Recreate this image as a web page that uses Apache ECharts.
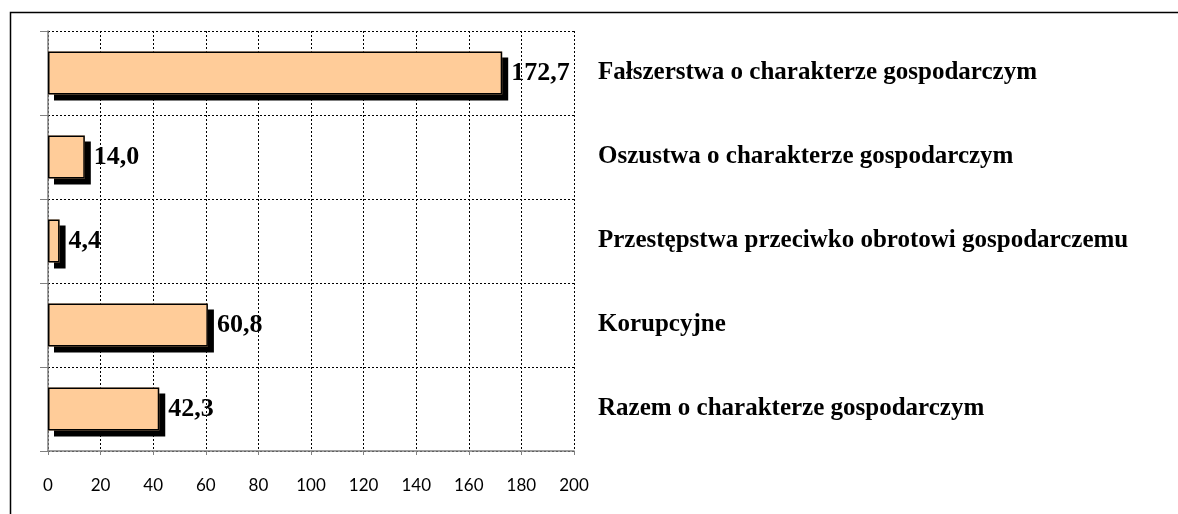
<!DOCTYPE html>
<html>
<head>
<meta charset="utf-8">
<script src="https://cdn.jsdelivr.net/npm/echarts@6/dist/echarts.min.js"></script>
<style>
html, body { margin: 0; padding: 0; background: #fff; }
#chart { width: 1178px; height: 514px; }
</style>
</head>
<body>
<div id="chart"></div>
<script>
// dane z wykresu
var categories = [
    'Fałszerstwa o charakterze gospodarczym',
    'Oszustwa o charakterze gospodarczym',
    'Przestępstwa przeciwko obrotowi gospodarczemu',
    'Korupcyjne',
    'Razem o charakterze gospodarczym'
];
var values = [172.7, 14.0, 4.4, 60.8, 42.3];
var xTicks = [0, 200, 20]; // min, max, interval

var myChart = echarts.init(document.getElementById('chart'));

var option = {
    backgroundColor: '#fff',
    animation: false,
    graphic: [{
        type: 'rect',
        shape: { x: 10.5, y: 12.5, width: 1200, height: 540 },
        style: { fill: 'none', stroke: '#000', lineWidth: 1.5 },
        silent: true
    }],
    grid: {
        left: 48,
        right: 604,
        top: 31,
        bottom: 63
    },
    xAxis: {
        type: 'value',
        min: xTicks[0],
        max: xTicks[1],
        interval: xTicks[2],
        axisLine: { show: true, lineStyle: { color: '#808080', width: 1.5 } },
        axisTick: { show: true, length: 4, lineStyle: { color: '#808080' } },
        axisLabel: {
            margin: 26,
            color: '#000',
            fontFamily: 'Lato',
            fontSize: 17
        },
        splitLine: { show: true, lineStyle: { color: '#000', type: [2, 2], width: 1 } }
    },
    yAxis: [{
        type: 'category',
        data: categories,
        inverse: true,
        position: 'left',
        axisLine: { show: true, lineStyle: { color: '#808080', width: 1.5 } },
        axisTick: { show: true, length: 8, lineStyle: { color: '#808080' } },
        axisLabel: { show: false },
        splitLine: { show: true, lineStyle: { color: '#000', type: [2, 2], width: 1 } }
    }, {
        type: 'category',
        data: categories,
        inverse: true,
        position: 'right',
        axisLine: { show: false },
        axisTick: { show: false },
        axisLabel: {
            show: true,
            align: 'left',
            margin: 24,
            color: '#000',
            fontFamily: 'Liberation Serif',
            fontWeight: 'bold',
            fontSize: 25
        },
        splitLine: { show: false }
    }],
    series: [{
        // wypełnienie z cieniem
        type: 'bar',
        data: values,
        barWidth: 43,
        z: 2,
        itemStyle: {
            color: '#FFCC99',
            borderWidth: 0,
            shadowBlur: 0,
            shadowOffsetX: 6,
            shadowOffsetY: 6,
            shadowColor: '#000'
        }
    }, {
        // obramowanie i etykiety
        type: 'bar',
        data: values,
        barWidth: 43,
        barGap: '-100%',
        z: 3,
        itemStyle: {
            color: 'rgba(0,0,0,0)',
            borderColor: '#000',
            borderWidth: 1.5
        },
        label: {
            show: true,
            position: 'right',
            distance: 9,
            color: '#000',
            fontFamily: 'Liberation Serif',
            fontWeight: 'bold',
            fontSize: 26,
            formatter: function (p) {
                return p.value.toFixed(1).replace('.', ',');
            }
        }
    }]
};

myChart.setOption(option);
</script>
</body>
</html>
